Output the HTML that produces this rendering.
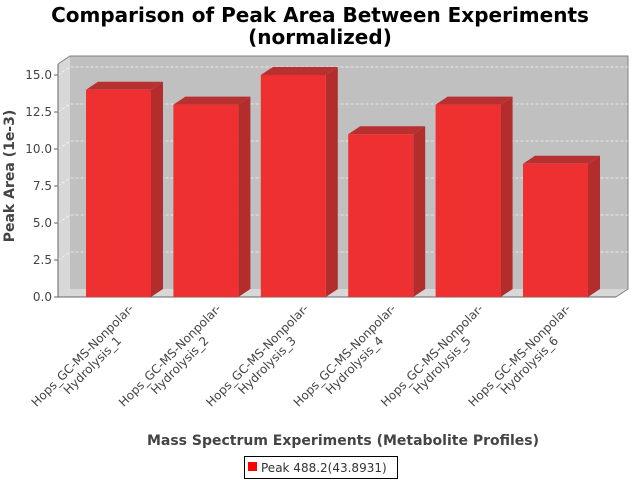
<!DOCTYPE html>
<html><head><meta charset="utf-8"><style>
html,body{margin:0;padding:0;background:#fff}
svg{display:block;font-family:"DejaVu Sans","Liberation Sans",sans-serif}
</style></head><body>
<svg id="chart" width="640" height="480" viewBox="0 0 640 480" xmlns="http://www.w3.org/2000/svg">
<text x="320" y="22" text-anchor="middle" font-size="20" font-weight="bold" fill="#000">Comparison of Peak Area Between Experiments</text>
<text x="320" y="44" text-anchor="middle" font-size="20" font-weight="bold" fill="#000">(normalized)</text>
<g id="plot"></g>
<text transform="translate(14,176) rotate(-90)" text-anchor="middle" font-size="14" font-weight="bold" fill="#444">Peak Area (1e-3)</text>
<text x="343" y="445" text-anchor="middle" font-size="14" font-weight="bold" fill="#444">Mass Spectrum Experiments (Metabolite Profiles)</text>
<g>
<rect x="244.5" y="456.5" width="153" height="22" fill="#fff" stroke="#000"/>
<rect x="248" y="462" width="9" height="9" fill="#ff0000"/>
<text x="261" y="472" font-size="12" fill="#333">Peak 488.2(43.8931)</text>
</g>
</svg>
<script>
const categories = ["Hops_GC-MS-Nonpolar-|Hydrolysis_1","Hops_GC-MS-Nonpolar-|Hydrolysis_2","Hops_GC-MS-Nonpolar-|Hydrolysis_3","Hops_GC-MS-Nonpolar-|Hydrolysis_4","Hops_GC-MS-Nonpolar-|Hydrolysis_5","Hops_GC-MS-Nonpolar-|Hydrolysis_6"];
const values = [14, 13, 15, 11, 13, 9];
const yTicks = [0, 2.5, 5, 7.5, 10, 12.5, 15];
const yTickLabels = ["0.0","2.5","5.0","7.5","10.0","12.5","15.0"];

const NS = "http://www.w3.org/2000/svg";
const plot = document.getElementById('plot');
const L = 58, B = 297, R = 616, DX = 12, DY = 8, TOP = 56;
const yScale = v => B - v * 14.8;
const xCenter = i => 118.5 + i * 87.4;
const BW = 65;
function mk(tag, attrs, parent) {
  const e = document.createElementNS(NS, tag);
  for (const k in attrs) e.setAttribute(k, attrs[k]);
  (parent || plot).appendChild(e);
  return e;
}
// walls
let w = mk('polygon', {points: `${L},${B} ${L + DX},${B - DY} ${L + DX},${TOP} ${L},${TOP + DY}`, fill: '#d8d8d8'});


let bw = mk('rect', {x: L + DX, y: TOP, width: R - L, height: B - DY - TOP, fill: '#c0c0c0'});


let fl = mk('polygon', {points: `${L},${B} ${L + DX},${B - DY} ${R + DX},${B - DY} ${R},${B}`, fill: '#d8d8d8'});


mk('polyline', {points: `${L},${TOP + DY} ${L + DX},${TOP} ${R + DX},${TOP} ${R + DX},${B - DY} ${R},${B}`, fill: 'none', stroke: '#808080', 'stroke-width': 1});
// grid + ticks
yTicks.forEach((t, i) => {
  const y = yScale(t);
  if (t > 0) {
    const g = mk('polyline', {points: `${L},${y} ${L + DX},${y - DY} ${R + DX},${y - DY}`, fill: 'none', stroke: '#ffffff', 'stroke-width': 0.8, 'stroke-dasharray': '3,2', opacity: 0.8});
    
    
  }
  mk('line', {x1: L - 4, y1: y, x2: L, y2: y, stroke: '#666'});
  const tx = mk('text', {x: L - 6, y: y + 4, 'text-anchor': 'end', 'font-size': 12, fill: '#444'});
  tx.textContent = yTickLabels[i];
  
  
});
// axes
mk('line', {x1: L, y1: TOP + DY, x2: L, y2: B, stroke: '#666'});
mk('line', {x1: L, y1: B, x2: R, y2: B, stroke: '#666'});
// bars
values.forEach((v, i) => {
  const x0 = xCenter(i) - BW / 2, x1 = x0 + BW, yt = yScale(v);
  const g = mk('g', {});
  
  
  mk('polygon', {points: `${x1},${B} ${x1 + DX},${B - DY} ${x1 + DX},${yt - DY} ${x1},${yt}`, fill: '#b32d2d'}, g);
  mk('polygon', {points: `${x0},${yt} ${x0 + DX},${yt - DY} ${x1 + DX},${yt - DY} ${x1},${yt}`, fill: '#b83030'}, g);
  mk('rect', {x: x0, y: yt, width: BW, height: B - yt, fill: '#ee3030'}, g);
  // label
  const lines = categories[i].split('|');
  const lg = mk('g', {transform: `translate(${xCenter(i) + 5},${B + 9}) rotate(-45)`});
  
  
  lines.forEach((s, j) => {
    const t = mk('text', {x: -64, y: 10 + j * 14, 'text-anchor': 'middle', 'font-size': 12, fill: '#444'}, lg);
    t.textContent = s;
  });
});
</script>
</body></html>
